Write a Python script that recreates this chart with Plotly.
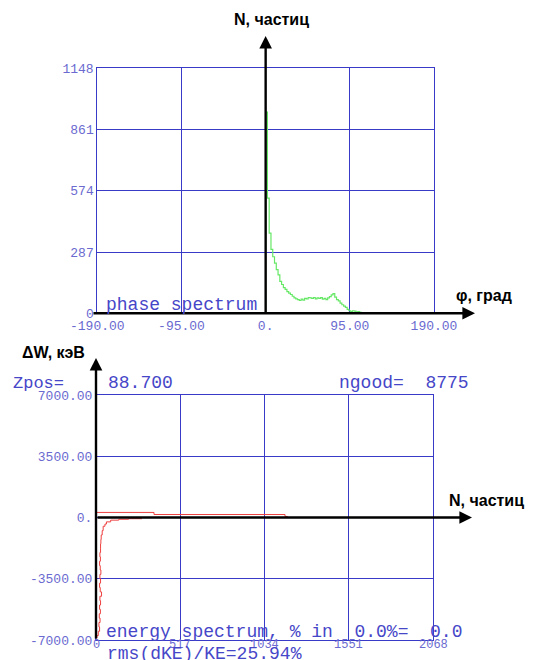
import plotly.graph_objects as go

# ---------------- data ----------------
# phase spectrum: bin left edges (deg) and particle counts
phase_deg = [0, 2, 4, 6, 8, 10, 12, 14, 16, 18, 20, 22, 24, 26, 28, 30, 32, 34, 36, 38,
             40, 42, 44, 46, 48, 50, 52, 54, 56, 58, 60, 62, 64, 66, 68, 70, 72, 74, 76, 78,
             80, 82, 84, 86, 88, 90, 92, 94, 96, 98, 100, 102, 104, 106, 108, 110, 112, 114, 116, 118]
phase_counts = [943, 540, 376, 300, 265, 235, 205, 180, 150, 135, 120, 112, 102, 95, 88, 80, 72, 68, 64, 60,
                66, 62, 70, 68, 74, 72, 70, 74, 68, 72, 70, 73, 66, 70, 64, 72, 78, 86, 92, 76,
                64, 58, 48, 40, 34, 28, 18, 12, 8, 12, 10, 6, 8, 4, 3, 2, 1, 0, 0, 0]

# energy spectrum: energy deviation levels (keV) and counts
dw_low = [-7000, -6875, -6750, -6500, -6250, -6000, -5750, -5500, -5250, -5000, -4750, -4500,
          -4250, -4000, -3750, -3500, -3250, -3000, -2750, -2500, -2250, -2000, -1750, -1500,
          -1250, -1000, -750, -500, -375, -250, -150, -100, -70]
n_low = [0, 6, 14, 22, 18, 25, 20, 27, 22, 28, 24, 34,
         26, 22, 28, 24, 30, 26, 22, 27, 24, 28, 28, 30,
         32, 38, 44, 55, 64, 90, 140, 200, 282]
dw_high = [290, 170, 60, 0]
n_high = [0, 356, 1160, 1175]

phase_ticks = [-190, -95, 0, 95, 190]
phase_ticktext = ["-190.00", "-95.00", "0.", "95.00", "190.00"]
count_ticks = [0, 287, 574, 861, 1148]
n_ticks = [0, 517, 1034, 1551, 2068]
dw_ticks = [-7000, -3500, 0, 3500, 7000]
dw_ticktext = ["-7000.00", "-3500.00", "0.", "3500.00", "7000.00"]

zpos = "88.700"
ngood = 8775

# ---------------- styling ----------------
W, H = 534, 660
GRID = "#3a3ac8"
TICK = "#6a6ad0"
TEXT = "#4646c8"
MONO = "Courier New, Liberation Mono, monospace"
SANS = "Arial, Liberation Sans, sans-serif"


def px(x):
    return x / W


def py(y):
    return 1 - y / H


fig = go.Figure()

# histogram outline: each bin drawn from its left edge to the next one
fig.add_trace(go.Scatter(
    x=[phase_deg[0]] + phase_deg, y=[0] + phase_counts,
    mode="lines", line=dict(color="#66e866", width=1.2, shape="hv"),
    xaxis="x", yaxis="y", hoverinfo="skip", showlegend=False))

fig.add_trace(go.Scatter(
    x=n_low, y=dw_low, mode="lines",
    line=dict(color="#ee4040", width=1, shape="vh"),
    xaxis="x2", yaxis="y2", hoverinfo="skip", showlegend=False))
fig.add_trace(go.Scatter(
    x=n_high, y=dw_high, mode="lines",
    line=dict(color="#ee4040", width=1, shape="hv"),
    xaxis="x2", yaxis="y2", hoverinfo="skip", showlegend=False))

axis_common = dict(showline=True, mirror=True, linecolor=GRID, linewidth=1,
                   showgrid=True, gridcolor=GRID, gridwidth=1, zeroline=False,
                   ticks="", tickangle=0, fixedrange=True, automargin=False,
                   tickfont=dict(family=MONO, size=13, color=TICK))

fig.update_layout(
    width=W, height=H, margin=dict(l=0, r=0, t=0, b=0),
    paper_bgcolor="white", plot_bgcolor="white",
    xaxis=dict(axis_common, domain=[px(97.3), px(434)], range=[-190, 190],
               tickvals=phase_ticks, ticktext=phase_ticktext, anchor="y"),
    yaxis=dict(axis_common, domain=[py(313.3), py(68.3)], range=[0, 1148],
               tickvals=count_ticks, ticktext=[str(v) for v in count_ticks], anchor="x"),
    xaxis2=dict(axis_common, domain=[px(96), px(433)], range=[0, 2068],
                tickvals=n_ticks, showticklabels=False, anchor="y2"),
    yaxis2=dict(axis_common, domain=[py(640), py(395)], range=[-7000, 7000],
                tickvals=dw_ticks, ticktext=dw_ticktext, anchor="x2"),
)

ann = []
# count tick labels of the energy plot, sitting tight under its frame
for v in n_ticks:
    ann.append(dict(text=str(v), showarrow=False, xref="x2", x=v, yref="paper", y=py(645),
                    xanchor="center", yanchor="middle",
                    font=dict(family=MONO, size=12, color=TICK)))

# black coordinate axes with arrowheads
arrow = dict(text="", showarrow=True, arrowhead=2, arrowsize=1.05, arrowwidth=2.4,
             arrowcolor="black", standoff=0, startstandoff=0)
ann.append(dict(arrow, xref="x", x=0, yref="paper", y=py(36), ax=0, ay=278))
ann.append(dict(arrow, xref="paper", x=px(475), yref="y", y=0, ax=-383, ay=0))
ann.append(dict(arrow, xref="x2", x=0, yref="paper", y=py(358), ax=0, ay=282))
ann.append(dict(arrow, xref="paper", x=px(472), yref="y2", y=0, ax=-376, ay=0))

# axis captions
cap = dict(showarrow=False, xref="paper", yref="paper", xanchor="left", yanchor="middle",
           font=dict(family=SANS, size=16, color="black"))
ann.append(dict(cap, text="<b>N, частиц</b>", x=px(232), y=py(20)))
ann.append(dict(cap, text="<b>φ, град</b>", x=px(454), y=py(295)))
ann.append(dict(cap, text="<b>ΔW, кэВ</b>", x=px(20), y=py(353)))
ann.append(dict(cap, text="<b>N, частиц</b>", x=px(447), y=py(500)))

# run information
info = dict(showarrow=False, xref="paper", yref="paper", xanchor="left", yanchor="middle",
            font=dict(family=MONO, size=18, color=TEXT))
ann.append(dict(info, text="phase spectrum", x=px(104), y=py(305)))
ann.append(dict(info, text="Zpos=", x=px(11), y=py(383), font=dict(family=MONO, size=17, color=TEXT)))
ann.append(dict(info, text=zpos, x=px(106), y=py(383)))
ann.append(dict(info, text=f"ngood=  {ngood}", x=px(337), y=py(383)))
ann.append(dict(info, text="energy spectrum, % in  0.0%=  0.0", x=px(104), y=py(632)))
ann.append(dict(info, text="rms(dKE)/KE=25.94%", x=px(105), y=py(654)))

fig.update_layout(annotations=ann)

fig.write_html("out.html")
